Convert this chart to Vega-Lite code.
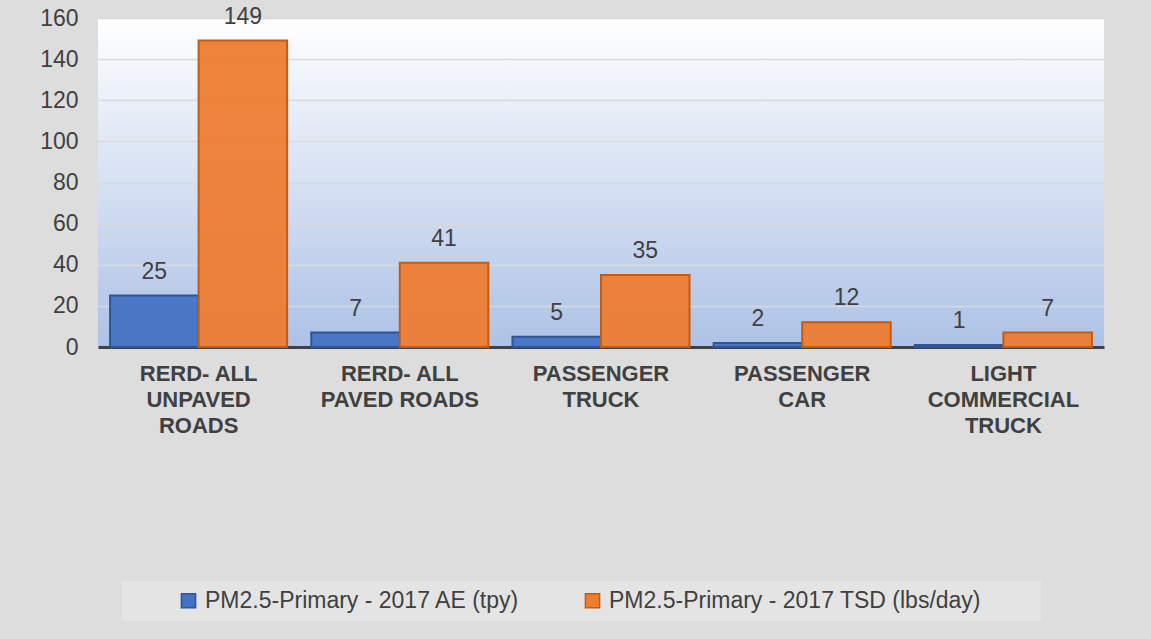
{
  "$schema": "https://vega.github.io/schema/vega-lite/v6.json",
  "width": 1006,
  "height": 329,
  "autosize": {"type": "none"},
  "padding": {"left": 98, "top": 18, "right": 47, "bottom": 292},
  "background": "#dddddd",
  "config": {
    "font": "Liberation Sans",
    "view": {"stroke": null, "fill": {"gradient": "linear", "x1": 0, "y1": 0, "x2": 0, "y2": 1, "stops": [{"offset": 0, "color": "#ffffff"}, {"offset": 1, "color": "#adc2e6"}]}}
  },
  "data": {
    "values": [
      {"cat": "RERD- ALL|UNPAVED|ROADS", "series": "PM2.5-Primary - 2017 AE (tpy)", "value": 25},
      {"cat": "RERD- ALL|UNPAVED|ROADS", "series": "PM2.5-Primary - 2017 TSD (lbs/day)", "value": 149},
      {"cat": "RERD- ALL|PAVED ROADS", "series": "PM2.5-Primary - 2017 AE (tpy)", "value": 7},
      {"cat": "RERD- ALL|PAVED ROADS", "series": "PM2.5-Primary - 2017 TSD (lbs/day)", "value": 41},
      {"cat": "PASSENGER|TRUCK", "series": "PM2.5-Primary - 2017 AE (tpy)", "value": 5},
      {"cat": "PASSENGER|TRUCK", "series": "PM2.5-Primary - 2017 TSD (lbs/day)", "value": 35},
      {"cat": "PASSENGER|CAR", "series": "PM2.5-Primary - 2017 AE (tpy)", "value": 2},
      {"cat": "PASSENGER|CAR", "series": "PM2.5-Primary - 2017 TSD (lbs/day)", "value": 12},
      {"cat": "LIGHT|COMMERCIAL|TRUCK", "series": "PM2.5-Primary - 2017 AE (tpy)", "value": 1},
      {"cat": "LIGHT|COMMERCIAL|TRUCK", "series": "PM2.5-Primary - 2017 TSD (lbs/day)", "value": 7}
    ]
  },
  "encoding": {
    "x": {
      "field": "cat", "type": "nominal", "sort": null,
      "scale": {"paddingInner": 0.12, "paddingOuter": 0.06},
      "axis": {"title": null, "labelAngle": 0, "labelExpr": "split(datum.label, '|')", "labelFontSize": 22, "labelFontWeight": "bold", "labelColor": "#404040", "labelPadding": 16, "labelLineHeight": 26, "labelBaseline": "top", "labelLimit": 300, "domainColor": "#404040", "domainWidth": 3, "ticks": false}
    },
    "xOffset": {"field": "series", "sort": null},
    "y": {
      "field": "value", "type": "quantitative",
      "scale": {"domain": [0, 160]},
      "axis": {"title": null, "values": [0, 20, 40, 60, 80, 100, 120, 140, 160], "labelFontSize": 23, "labelColor": "#404040", "gridColor": "#d9d9d9", "gridWidth": 1.5, "domain": false, "ticks": false, "labelPadding": 20}
    }
  },
  "layer": [
    {
      "mark": {"type": "bar", "strokeWidth": 2, "fillOpacity": 0.95},
      "encoding": {
        "color": {
          "field": "series", "type": "nominal", "sort": null,
          "scale": {"domain": ["PM2.5-Primary - 2017 AE (tpy)", "PM2.5-Primary - 2017 TSD (lbs/day)"], "range": ["#4472c4", "#ed7d31"]},
          "legend": {"title": "\u00a0", "titleOrient": "right", "titlePadding": 52, "orient": "none", "legendX": 24, "legendY": 563, "direction": "horizontal", "labelFontSize": 23, "labelColor": "#404040", "symbolType": "square", "symbolSize": 200, "symbolStrokeWidth": 1.5, "symbolOffset": 47, "labelOffset": 5, "columnPadding": 14, "padding": 8, "fillColor": "#e4e4e4", "labelLimit": 500}
        },
        "stroke": {
          "field": "series", "type": "nominal", "sort": null,
          "scale": {"domain": ["PM2.5-Primary - 2017 AE (tpy)", "PM2.5-Primary - 2017 TSD (lbs/day)"], "range": ["#2f5597", "#c55a11"]},
          "legend": null
        }
      }
    },
    {
      "mark": {"type": "text", "dy": -12, "fontSize": 23, "color": "#404040", "baseline": "bottom"},
      "encoding": {"text": {"field": "value", "type": "quantitative"}}
    }
  ]
}
